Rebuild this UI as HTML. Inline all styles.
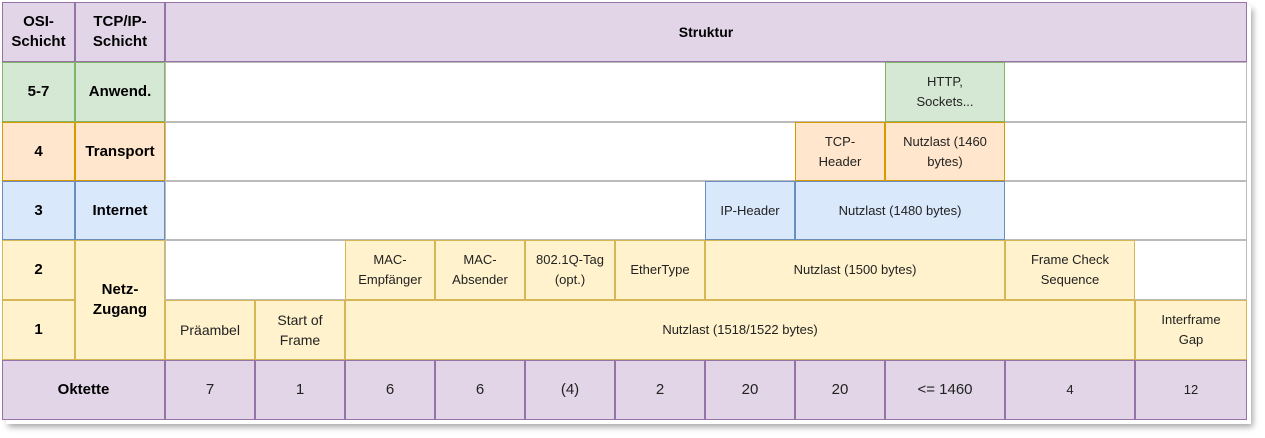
<!DOCTYPE html>
<html><head><meta charset="utf-8"><style>
body{margin:0;width:1265px;height:438px;background:#fff;position:relative;overflow:hidden;font-family:"Liberation Sans",sans-serif;}
.c{position:absolute;box-sizing:border-box;display:flex;align-items:center;justify-content:center;text-align:center;font-size:13px;color:#222;line-height:20px;border:1.5px solid}
.p{background:#e1d5e7;border-color:#9673a6}
.g{background:#d5e8d4;border-color:#82b366}
.o{background:#ffe6cc;border-color:#d79b00}
.b{background:#dae8fc;border-color:#6c8ebf}
.y{background:#fff2cc;border-color:#d6b656}
.w{background:#fff;border-color:#bbb}
.B{font-weight:bold;font-size:15px;color:#000}
.sh{position:absolute;left:6px;top:6px;width:1245px;height:418px;box-shadow:2px 3px 6px rgba(0,0,0,.35)}
</style></head><body>
<div class="sh"></div>
<div class="c p B" style="left:2px;top:2px;width:73px;height:60px">OSI-<br>Schicht</div>
<div class="c p B" style="left:75px;top:2px;width:90px;height:60px">TCP/IP-<br>Schicht</div>
<div class="c p B" style="left:165px;top:2px;width:1082px;height:60px;font-size:14px">Struktur</div>

<div class="c g B" style="left:2px;top:62px;width:73px;height:60px">5-7</div>
<div class="c g B" style="left:75px;top:62px;width:90px;height:60px">Anwend.</div>
<div class="c w" style="left:165px;top:62px;width:1082px;height:60px"></div>
<div class="c g" style="left:885px;top:62px;width:120px;height:60px">HTTP,<br>Sockets...</div>

<div class="c o B" style="left:2px;top:122px;width:73px;height:59px">4</div>
<div class="c o B" style="left:75px;top:122px;width:90px;height:59px">Transport</div>
<div class="c w" style="left:165px;top:122px;width:1082px;height:59px"></div>
<div class="c o" style="left:795px;top:122px;width:90px;height:59px">TCP-<br>Header</div>
<div class="c o" style="left:885px;top:122px;width:120px;height:59px">Nutzlast (1460<br>bytes)</div>

<div class="c b B" style="left:2px;top:181px;width:73px;height:59px">3</div>
<div class="c b B" style="left:75px;top:181px;width:90px;height:59px">Internet</div>
<div class="c w" style="left:165px;top:181px;width:1082px;height:59px"></div>
<div class="c b" style="left:705px;top:181px;width:90px;height:59px">IP-Header</div>
<div class="c b" style="left:795px;top:181px;width:210px;height:59px">Nutzlast (1480 bytes)</div>

<div class="c y B" style="left:2px;top:240px;width:73px;height:60px">2</div>
<div class="c y B" style="left:75px;top:240px;width:90px;height:120px">Netz-<br>Zugang</div>
<div class="c w" style="left:165px;top:240px;width:1082px;height:60px"></div>
<div class="c y" style="left:345px;top:240px;width:90px;height:60px">MAC-<br>Empfänger</div>
<div class="c y" style="left:435px;top:240px;width:90px;height:60px">MAC-<br>Absender</div>
<div class="c y" style="left:525px;top:240px;width:90px;height:60px">802.1Q-Tag<br>(opt.)</div>
<div class="c y" style="left:615px;top:240px;width:90px;height:60px">EtherType</div>
<div class="c y" style="left:705px;top:240px;width:300px;height:60px">Nutzlast (1500 bytes)</div>
<div class="c y" style="left:1005px;top:240px;width:130px;height:60px">Frame Check<br>Sequence</div>

<div class="c y B" style="left:2px;top:300px;width:73px;height:60px">1</div>
<div class="c y" style="left:165px;top:300px;width:90px;height:60px;font-size:14px">Präambel</div>
<div class="c y" style="left:255px;top:300px;width:90px;height:60px;font-size:14px">Start of<br>Frame</div>
<div class="c y" style="left:345px;top:300px;width:790px;height:60px">Nutzlast (1518/1522 bytes)</div>
<div class="c y" style="left:1135px;top:300px;width:112px;height:60px">Interframe<br>Gap</div>

<div class="c p B" style="left:2px;top:360px;width:163px;height:60px">Oktette</div>
<div class="c p" style="left:165px;top:360px;width:90px;height:60px;font-size:15px">7</div>
<div class="c p" style="left:255px;top:360px;width:90px;height:60px;font-size:15px">1</div>
<div class="c p" style="left:345px;top:360px;width:90px;height:60px;font-size:15px">6</div>
<div class="c p" style="left:435px;top:360px;width:90px;height:60px;font-size:15px">6</div>
<div class="c p" style="left:525px;top:360px;width:90px;height:60px;font-size:15px">(4)</div>
<div class="c p" style="left:615px;top:360px;width:90px;height:60px;font-size:15px">2</div>
<div class="c p" style="left:705px;top:360px;width:90px;height:60px;font-size:15px">20</div>
<div class="c p" style="left:795px;top:360px;width:90px;height:60px;font-size:15px">20</div>
<div class="c p" style="left:885px;top:360px;width:120px;height:60px;font-size:15px">&lt;= 1460</div>
<div class="c p" style="left:1005px;top:360px;width:130px;height:60px">4</div>
<div class="c p" style="left:1135px;top:360px;width:112px;height:60px">12</div>
</body></html>
